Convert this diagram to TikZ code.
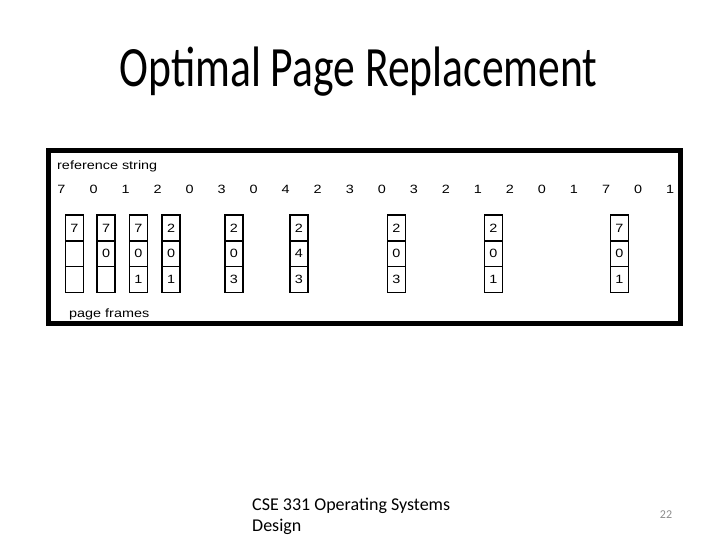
\documentclass[tikz,border=0pt]{standalone}
\usepackage{fontspec}
\usepackage{tikz}
\usetikzlibrary{positioning}

\newfontfamily\figfont[FakeStretch=1.2]{Liberation Sans}
\newfontfamily\titlefont[FakeStretch=0.765]{Carlito}
\newfontfamily\slidefont{Carlito}
\definecolor{pagegray}{HTML}{8B8B8B}

\begin{document}
\begin{tikzpicture}[
    x=1pt, y=-1pt,
    % Define a custom style for the page frame cells
    cell/.style={
        draw,
        rectangle,
        line width=1.5pt,
        outer sep=0pt,
        inner sep=0pt,
        minimum width=18pt,
        minimum height=25.7pt,
        font=\figfont\fontsize{12}{14}\selectfont
    },
    refnum/.style={anchor=base, inner sep=0pt, font=\figfont\fontsize{12}{14}\selectfont},
    figlabel/.style={anchor=base west, inner sep=0pt, font=\figfont\fontsize{12}{14}\selectfont}
]
\useasboundingbox (0,0) rectangle (720,540);

% Slide title
\node[anchor=base, inner sep=0pt, font=\titlefont\fontsize{57}{60}\selectfont] (title) at (358.5,87) {Optimal Page Replacement};

% Figure frame
\draw[line width=5pt] (48,151) rectangle (680.5,323.5);
\node[figlabel] (reflabel) at (57,170) {reference string};
\node[figlabel] (framelabel) at (69,317) {page frames};

% Reference string
\foreach \v [count=\i] in {7,0,1,2,0,3,0,4,2,3,0,3,2,1,2,0,1,7,0,1}
    \node[refnum] (r\i) at ({61.5+32.03*(\i-1)},194) {\v};

% Page frames after each fault
\node[cell] (f1a) at (74.3,228) {7};
\node[cell, below=0pt of f1a] (f1b) {};
\node[cell, below=0pt of f1b] (f1c) {};

\node[cell] (f2a) at (106.2,228) {7};
\node[cell, below=0pt of f2a] (f2b) {0};
\node[cell, below=0pt of f2b] (f2c) {};

\node[cell] (f3a) at (138.3,228) {7};
\node[cell, below=0pt of f3a] (f3b) {0};
\node[cell, below=0pt of f3b] (f3c) {1};

\node[cell] (f4a) at (171.2,228) {2};
\node[cell, below=0pt of f4a] (f4b) {0};
\node[cell, below=0pt of f4b] (f4c) {1};

\node[cell] (f5a) at (233.8,228) {2};
\node[cell, below=0pt of f5a] (f5b) {0};
\node[cell, below=0pt of f5b] (f5c) {3};

\node[cell] (f6a) at (298.8,228) {2};
\node[cell, below=0pt of f6a] (f6b) {4};
\node[cell, below=0pt of f6b] (f6c) {3};

\node[cell] (f7a) at (396.3,228) {2};
\node[cell, below=0pt of f7a] (f7b) {0};
\node[cell, below=0pt of f7b] (f7c) {3};

\node[cell] (f8a) at (493.3,228) {2};
\node[cell, below=0pt of f8a] (f8b) {0};
\node[cell, below=0pt of f8b] (f8c) {1};

\node[cell] (f9a) at (619.3,228) {7};
\node[cell, below=0pt of f9a] (f9b) {0};
\node[cell, below=0pt of f9b] (f9c) {1};

% Footer (base anchor sits on the last line)
\node[anchor=base west, inner sep=0pt, align=left, font=\slidefont\fontsize{18}{21.5}\selectfont] (footer) at (252,531.5) {CSE 331 Operating Systems\\Design};
\node[inner sep=0pt, text=pagegray, font=\slidefont\fontsize{12}{14}\selectfont] (pagenum) at (666,515) {22};

\end{tikzpicture}
\end{document}
